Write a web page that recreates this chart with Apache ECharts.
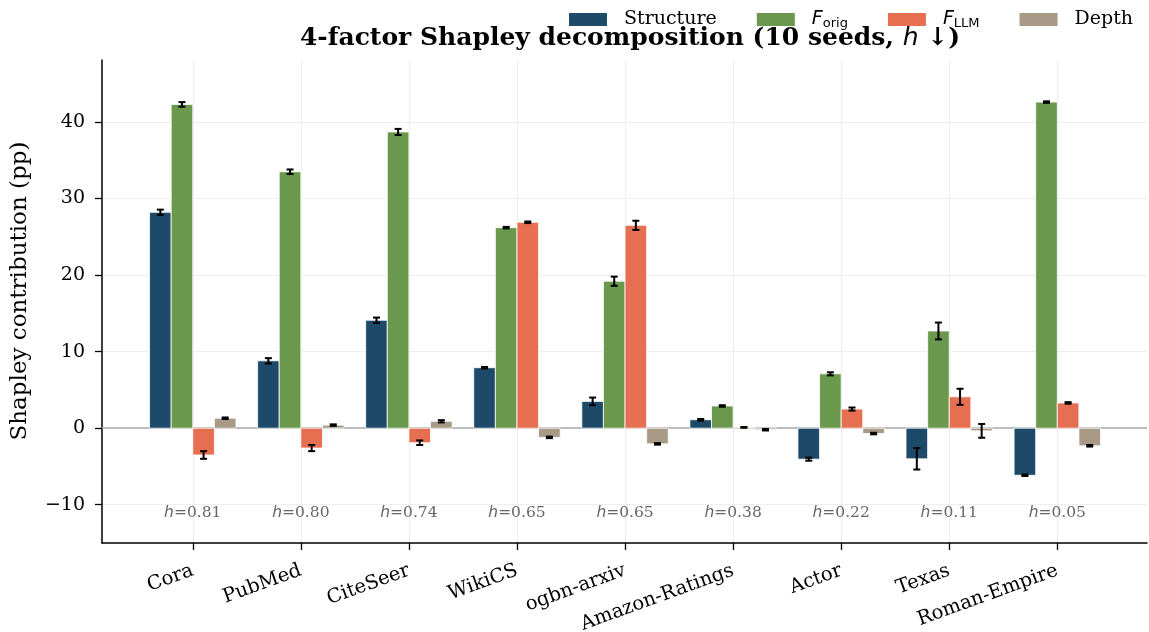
<!DOCTYPE html>
<html>
<head>
<meta charset="utf-8">
<script src="https://cdn.jsdelivr.net/npm/echarts@6/dist/echarts.min.js"></script>
<style>
  html, body { margin: 0; padding: 0; background: #fff; }
  #chart { width: 1149px; height: 632px; }
</style>
</head>
<body>
<div id="chart"></div>
<script>
// data
const categories = ['Cora', 'PubMed', 'CiteSeer', 'WikiCS', 'ogbn-arxiv', 'Amazon-Ratings', 'Actor', 'Texas', 'Roman-Empire']
const homophily = ['0.81', '0.80', '0.74', '0.65', '0.65', '0.38', '0.22', '0.11', '0.05']
const factorNames = ['Structure', 'F_orig', 'F_LLM', 'Depth']

const structure = [28.2, 8.8, 14.1, 7.9, 3.5, 1.1, -4.05, -4.0, -6.15]
const fOrig = [42.3, 33.5, 38.7, 26.2, 19.2, 2.9, 7.1, 12.7, 42.6]
const fLLM = [-3.5, -2.6, -1.9, 26.9, 26.5, 0.1, 2.5, 4.1, 3.3]
const depth = [1.3, 0.4, 0.9, -1.2, -2.05, -0.2, -0.7, -0.35, -2.3]

const structureErr = [0.35, 0.35, 0.35, 0.1, 0.5, 0.1, 0.2, 1.4, 0.1]
const fOrigErr = [0.3, 0.3, 0.4, 0.1, 0.6, 0.1, 0.2, 1.1, 0.1]
const fLLMErr = [0.5, 0.4, 0.3, 0.1, 0.6, 0.05, 0.2, 1.05, 0.1]
const depthErr = [0.1, 0.1, 0.15, 0.1, 0.1, 0.1, 0.1, 0.9, 0.1]

const yTicks = [-10, 0, 10, 20, 30, 40]

const values = [structure, fOrig, fLLM, depth]
const errors = [structureErr, fOrigErr, fLLMErr, depthErr]
const colors = ['#1d4a68', '#6a994e', '#e76f51', '#a89a86']

const BW = 0.2
const offsets = [-0.3, -0.1, 0.1, 0.3]
const SERIF = 'DejaVu Serif'
const SANS = 'DejaVu Sans'

const chart = echarts.init(document.getElementById('chart'))

function factorSeries(k) {
  return {
    name: factorNames[k],
    type: 'custom',
    encode: { x: 0, y: 1 },
    itemStyle: { color: colors[k] },
    data: categories.map((c, i) => [i, values[k][i], errors[k][i]]),
    renderItem: function(params, api) {
      const i = api.value(0)
      const v = api.value(1)
      const e = api.value(2)
      const xc = i + offsets[k]
      const a = api.coord([xc - BW / 2, 0])
      const b = api.coord([xc + BW / 2, v])
      const top = api.coord([xc, v + e])
      const bot = api.coord([xc, v - e])
      const cap = 3.5
      return {
        type: 'group',
        children: [
          {
            type: 'rect',
            shape: { x: a[0], y: Math.min(a[1], b[1]), width: b[0] - a[0], height: Math.abs(b[1] - a[1]) },
            style: { fill: colors[k], stroke: '#ffffff', lineWidth: 0.8 }
          },
          {
            type: 'line',
            shape: { x1: top[0], y1: top[1], x2: bot[0], y2: bot[1] },
            style: { stroke: '#000', lineWidth: 2 }
          },
          {
            type: 'line',
            shape: { x1: top[0] - cap, y1: top[1], x2: top[0] + cap, y2: top[1] },
            style: { stroke: '#000', lineWidth: 2 }
          },
          {
            type: 'line',
            shape: { x1: bot[0] - cap, y1: bot[1], x2: bot[0] + cap, y2: bot[1] },
            style: { stroke: '#000', lineWidth: 2 }
          }
        ]
      }
    }
  }
}

const series = [0, 1, 2, 3].map(factorSeries)

// zero line
series[0].markLine = {
  silent: true,
  symbol: 'none',
  label: { show: false },
  lineStyle: { color: '#aaaaaa', width: 1.5, type: 'solid' },
  data: [{ yAxis: 0 }],
  z: 1
}

// homophily annotations
series.push({
  name: 'h',
  type: 'custom',
  encode: { x: 0, y: 1 },
  data: homophily.map((h, i) => [i, -11.1]),
  renderItem: function(params, api) {
    const p = api.coord([api.value(0), api.value(1)])
    return {
      type: 'text',
      x: p[0],
      y: p[1],
      style: {
        text: '{i|h}{n|=' + homophily[params.dataIndex] + '}',
        align: 'center',
        verticalAlign: 'middle',
        rich: {
          i: { fontFamily: SANS, fontStyle: 'italic', fontSize: 15.5, fill: '#666666' },
          n: { fontFamily: SERIF, fontSize: 15.5, fill: '#666666' }
        }
      }
    }
  }
})

const option = {
  backgroundColor: '#ffffff',
  animation: false,
  title: {
    text: '{b|4-factor Shapley decomposition (10 seeds, }{i|h}{b| \u2193)}',
    left: 625,
    textAlign: 'center',
    top: 21,
    textStyle: {
      rich: {
        b: { fontFamily: SERIF, fontWeight: 'bold', fontSize: 25, color: '#000' },
        i: { fontFamily: SANS, fontStyle: 'italic', fontWeight: 'normal', fontSize: 25, color: '#000' }
      }
    }
  },
  graphic: [
    {
      type: 'text',
      x: 20,
      y: 291,
      rotation: Math.PI / 2,
      style: {
        text: 'Shapley contribution (pp)',
        fontFamily: SERIF,
        fontSize: 23,
        fill: '#000',
        align: 'center',
        verticalAlign: 'middle'
      }
    }
  ],
  legend: {
    data: factorNames,
    left: 564,
    top: 5,
    itemWidth: 38,
    itemHeight: 13,
    itemGap: 40,
    icon: 'rect',
    formatter: function(name) {
      if (name === 'F_orig') return '{f|F}{s|orig}'
      if (name === 'F_LLM') return '{f|F}{s|LLM}'
      return '{t|' + name + '}'
    },
    textStyle: {
      padding: [0, 0, 0, 12],
      rich: {
        t: { fontFamily: SERIF, fontSize: 19, color: '#000' },
        f: { fontFamily: SANS, fontStyle: 'italic', fontSize: 19, color: '#000' },
        s: { fontFamily: SANS, fontSize: 13, color: '#000', padding: [9, 0, 0, 0] }
      }
    }
  },
  grid: {
    left: 102,
    right: 2,
    top: 60,
    bottom: 89,
    outerBoundsMode: 'none'
  },
  xAxis: {
    type: 'value',
    min: -0.84,
    max: 8.83,
    axisLine: { show: true, onZero: false, lineStyle: { color: '#000', width: 1.5 } },
    axisTick: { show: true, customValues: [0, 1, 2, 3, 4, 5, 6, 7, 8], length: 7, lineStyle: { color: '#000', width: 1.3 } },
    axisLabel: {
      customValues: [0, 1, 2, 3, 4, 5, 6, 7, 8],
      formatter: function(v) { return categories[Math.round(v)] },
      rotate: 20,
      margin: 27,
      fontFamily: SERIF,
      fontSize: 19.5,
      color: '#000'
    },
    splitLine: { show: true, lineStyle: { color: '#eeeeee', width: 1 } }
  },
  yAxis: {
    type: 'value',
    min: -15,
    max: 48.1,
    axisLine: { show: true, onZero: false, lineStyle: { color: '#000', width: 1.5 } },
    axisTick: { show: true, customValues: yTicks, length: 7, lineStyle: { color: '#000', width: 1.3 } },
    axisLabel: {
      customValues: yTicks,
      formatter: function(v) { return v < 0 ? '\u2212' + Math.abs(v) : String(v) },
      margin: 17,
      fontFamily: SERIF,
      fontSize: 19,
      color: '#000'
    },
    splitLine: { show: true, lineStyle: { color: '#eeeeee', width: 1 } }
  },
  series: series
}

chart.setOption(option)
</script>
</body>
</html>
